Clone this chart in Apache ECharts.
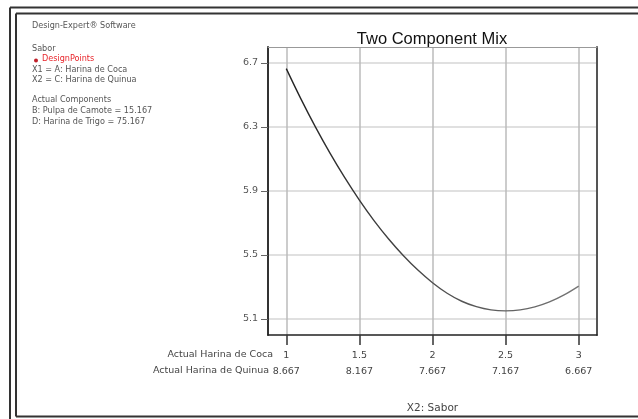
<!DOCTYPE html>
<html>
<head>
<meta charset="utf-8">
<script src="https://cdn.jsdelivr.net/npm/echarts@6/dist/echarts.min.js"></script>
<style>
html,body{margin:0;padding:0;background:#fff;}
#c{width:638px;height:419px;}
</style>
</head>
<body>
<div id="c"></div>
<script>
// X2 component (Harina de Coca) values along the curve
const xValues = [1.0,1.1,1.2,1.3,1.4,1.5,1.6,1.7,1.8,1.9,2.0,2.1,2.2,2.3,2.4,2.5,2.6,2.7,2.8,2.9,3.0];
// Predicted Sabor
const saborValues = [6.665,6.476,6.299,6.135,5.983,5.843,5.715,5.600,5.497,5.406,5.327,5.261,5.211,5.177,5.157,5.151,5.157,5.176,5.207,5.251,5.306];
// Tick labels
const cocaTicks = [1,1.5,2,2.5,3];
const cocaLabels = ['1','1.5','2','2.5','3'];
const quinuaLabels = ['8.667','8.167','7.667','7.167','6.667'];
const yTicks = [5.1,5.5,5.9,6.3,6.7];
const infoLines = [
  'Design-Expert\u00ae Software',
  '',
  'Sabor',
  'DesignPoints',
  'X1 = A: Harina de Coca',
  'X2 = C: Harina de Quinua',
  '',
  'Actual Components',
  'B: Pulpa de Camote = 15.167',
  'D: Harina de Trigo = 75.167'
];

const chart = echarts.init(document.getElementById('c'));
const FONT = 'DejaVu Sans, sans-serif';
const TFONT = 'Liberation Sans, Arial, sans-serif';

const infoGraphics = [];
const lineYs = [27, 38, 50, 60, 71, 81, 91, 101, 112, 123];
infoLines.forEach((t, i) => {
  if (!t) return;
  infoGraphics.push({
    type: 'text', left: t === 'DesignPoints' ? 42 : 32, top: lineYs[i] - 5,
    style: { text: t, fill: t === 'DesignPoints' ? '#e8242a' : '#555', font: '8.1px ' + FONT }
  });
});
infoGraphics.push({ type: 'circle', shape: { cx: 36, cy: 60.5, r: 2 }, style: { fill: '#c0202a' } });

const frame = [
  { type: 'line', shape: { x1: 10, y1: 7.5, x2: 640, y2: 7.5 }, style: { stroke: '#333', lineWidth: 2 } },
  { type: 'line', shape: { x1: 16, y1: 13.5, x2: 640, y2: 13.5 }, style: { stroke: '#333', lineWidth: 2 } },
  { type: 'line', shape: { x1: 10, y1: 7.5, x2: 10, y2: 420 }, style: { stroke: '#333', lineWidth: 2 } },
  { type: 'line', shape: { x1: 16, y1: 13.5, x2: 16, y2: 416.5 }, style: { stroke: '#333', lineWidth: 2 } },
  { type: 'line', shape: { x1: 16, y1: 416.5, x2: 640, y2: 416.5 }, style: { stroke: '#333', lineWidth: 2 } }
];

const rowHeaders = [
  { type: 'text', right: 638 - 273, top: 350, style: { text: 'Actual Harina de Coca', fill: '#444', font: '9.5px ' + FONT } },
  { type: 'text', right: 638 - 269, top: 366, style: { text: 'Actual Harina de Quinua', fill: '#444', font: '9.5px ' + FONT } }
];

chart.setOption({
  animation: false,
  backgroundColor: '#fff',
  title: {
    text: 'Two Component Mix', left: 427, top: 26, textAlign: 'center',
    textStyle: { fontFamily: TFONT, fontSize: 16.5, fontWeight: 'normal', color: '#111' }
  },
  grid: { left: 268, right: 41, top: 47, bottom: 81, show: false },
  xAxis: [{
    type: 'value', min: 0.875, max: 3.125,
    name: 'X2: Sabor', nameLocation: 'middle', nameGap: 68,
    nameTextStyle: { fontFamily: FONT, fontSize: 10.5, color: '#444' },
    axisLine: { show: true, lineStyle: { color: '#222', width: 1.5 } },
    axisTick: { show: true, length: 10, customValues: cocaTicks, lineStyle: { color: '#333', width: 1.5 } },
    axisLabel: {
      customValues: cocaTicks, margin: 13,
      formatter: v => {
        const i = cocaTicks.indexOf(v);
        return '{a|' + cocaLabels[i] + '}\n{b|' + quinuaLabels[i] + '}';
      },
      rich: {
        a: { fontFamily: FONT, fontSize: 9.5, color: '#444', lineHeight: 16 },
        b: { fontFamily: FONT, fontSize: 9.5, color: '#444', lineHeight: 16 }
      }
    },
    splitLine: { show: true, lineStyle: { color: '#bbb', width: 1.5 } }
  }, {
    type: 'value', min: 0.875, max: 3.125, position: 'top',
    axisLine: { show: true, lineStyle: { color: '#999', width: 1 } },
    axisTick: { show: false }, axisLabel: { show: false }, splitLine: { show: false }
  }],
  yAxis: [{
    type: 'value', min: 5.0, max: 6.8,
    axisLine: { show: true, lineStyle: { color: '#333', width: 2 } },
    axisTick: { show: true, length: 7, customValues: yTicks, lineStyle: { color: '#666' } },
    axisLabel: {
      customValues: yTicks, margin: 10,
      formatter: v => v.toFixed(1),
      fontFamily: FONT, fontSize: 9.5, color: '#555'
    },
    splitLine: { show: true, lineStyle: { color: '#e0e0e0', width: 2 } }
  }, {
    type: 'value', min: 5.0, max: 6.8, position: 'right',
    axisLine: { show: true, lineStyle: { color: '#555', width: 2 } },
    axisTick: { show: false }, axisLabel: { show: false }, splitLine: { show: false }
  }],
  series: [{
    type: 'line', smooth: 0.4, symbol: 'none',
    data: xValues.map((x, i) => [x, saborValues[i]]),
    lineStyle: {
      width: 1.4,
      color: new echarts.graphic.LinearGradient(0, 0, 1, 0, [
        { offset: 0, color: '#222' }, { offset: 1, color: '#777' }
      ])
    }
  }],
  graphic: [...frame, ...infoGraphics, ...rowHeaders]
});
</script>
</body>
</html>
